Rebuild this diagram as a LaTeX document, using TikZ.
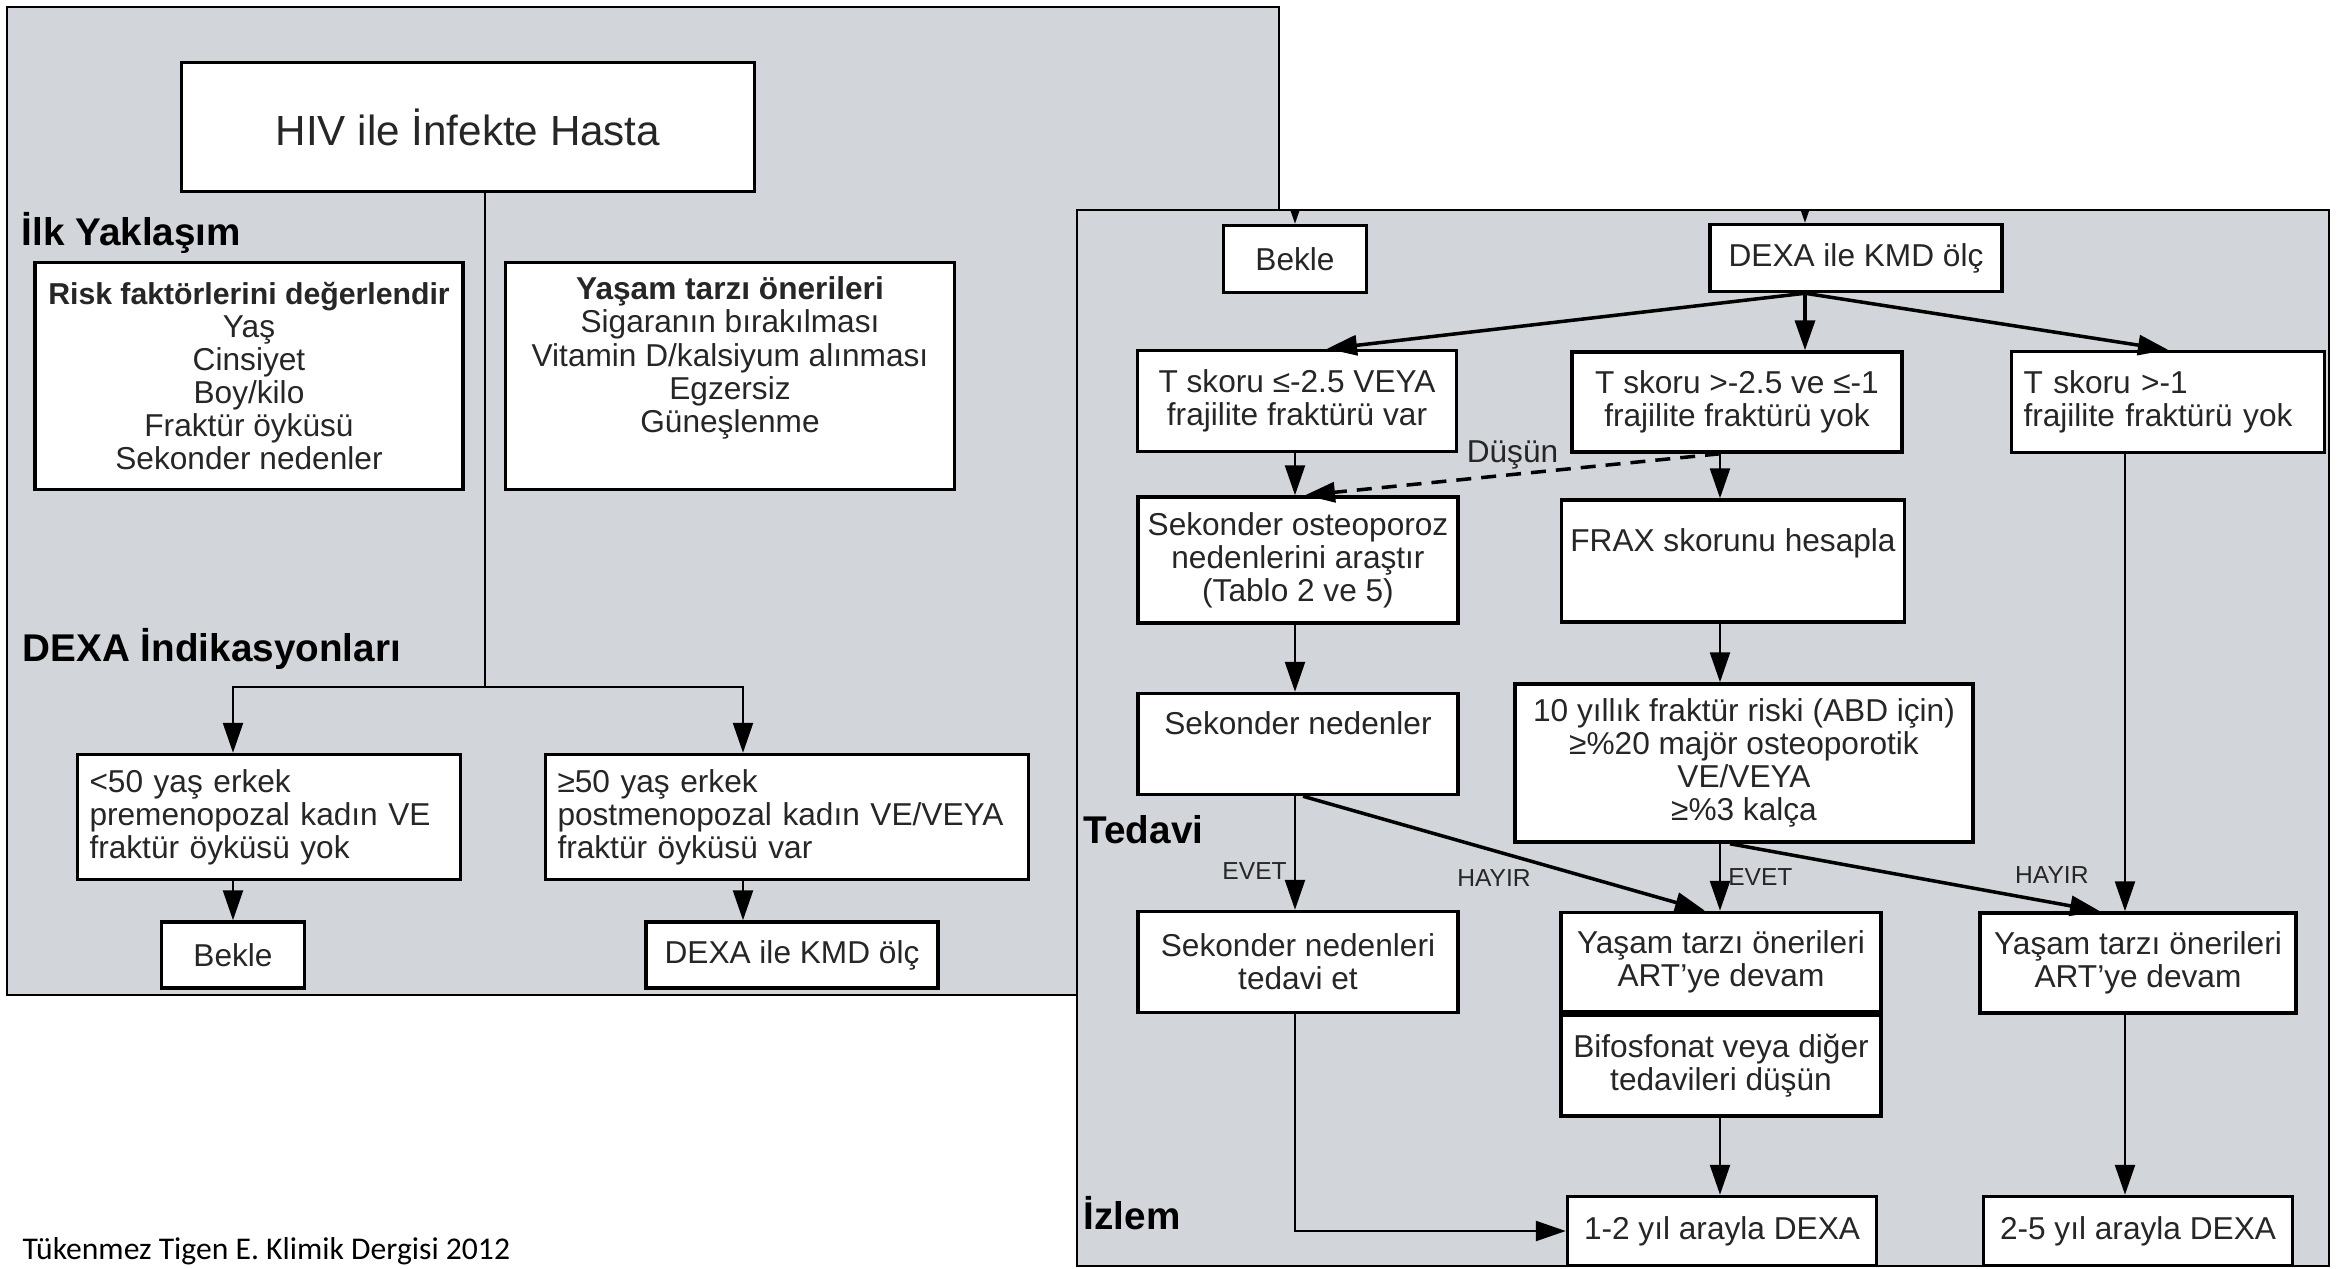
\documentclass[tikz,border=0pt]{standalone}
\usepackage{fontspec}
\setmainfont{Liberation Sans}
\newfontfamily\capfont{Carlito}
\usepackage{tikz}
\usetikzlibrary{arrows.meta, positioning}
\definecolor{panelgray}{RGB}{210,213,217}
\definecolor{ink}{RGB}{38,38,38}
\newcommand{\boxfont}{\fontsize{9}{9.4}\selectfont}

\begin{document}
\begin{tikzpicture}[x=0.1mm, y=-0.1mm, every node/.style={font=\boxfont, text=ink},
      panel/.style={draw=black, fill=panelgray, line width=0.6pt},
      box/.style={draw=black, fill=white, line width=1pt, align=center, inner sep=0pt},
      lbox/.style={box, align=left, inner xsep=1.2mm},
      head/.style={anchor=base west, inner sep=0pt, text=black, font=\fontsize{11}{13}\selectfont\bfseries},
      tag/.style={font=\fontsize{7}{8}\selectfont, inner sep=2pt},
      ar/.style={-{Triangle[length=3mm, width=2mm]}, line width=0.7pt},
      dar/.style={ar, line width=1pt}]
    \useasboundingbox (0,0) rectangle (2346,1268);

    \draw[panel] (7,7) rectangle (1279,995);
    \node[box, minimum width=57.3mm, minimum height=12.9mm, font=\fontsize{12}{14}\selectfont] (hiv) at (468,127) {HIV ile İnfekte Hasta};
    \node[head] (ilk) at (21,245) {İlk Yaklaşım};
    \node[box, minimum width=42.8mm, minimum height=22.7mm] (risk) at (249,376) {{\fontsize{8.6}{9.4}\selectfont\textbf{Risk faktörlerini değerlendir}}\\Yaş\\Cinsiyet\\Boy/kilo\\Fraktür öyküsü\\Sekonder nedenler};
    \node[box, minimum width=44.9mm, minimum height=22.7mm] (yasam) at (730,376) {\textbf{Yaşam tarzı önerileri}\\Sigaranın bırakılması\\Vitamin D/kalsiyum alınması\\Egzersiz\\Güneşlenme\\\strut};
    \node[head] (dexaind) at (22,661) {DEXA İndikasyonları};
    \node[lbox, text width=35.9mm, minimum height=12.5mm] (young) at (269,817) {<50 yaş erkek\\premenopozal kadın VE\\fraktür öyküsü yok};
    \node[lbox, text width=45.9mm, minimum height=12.5mm] (old) at (787,817) {≥50 yaş erkek\\postmenopozal kadın VE/VEYA\\fraktür öyküsü var};
    \node[box, minimum width=14.3mm, minimum height=6.6mm] (bekleL) at (233,955) {Bekle};
    \node[box, minimum width=29.2mm, minimum height=6.6mm] (dexaL) at (792,955) {DEXA ile KMD ölç};
    \coordinate (split) at (485,687);
    \coordinate (colL) at (233,687);
    \coordinate (colR) at (743,687);
    \draw[line width=0.7pt] (hiv.south -| split) -- (split);
    \draw[ar] (split) -| (young.north -| colL); \draw[ar] (split) -| (old.north -| colR);
    \draw[ar] (young.south -| colL) -- (bekleL.north -| colL); \draw[ar] (old.south -| colR) -- (dexaL.north -| colR);

    \draw[panel] (1077,210) rectangle (2329,1266);
    \node[box, minimum width=14.3mm, minimum height=6.7mm] (bekleR) at (1295,259) {Bekle};
    \node[box, minimum width=29.2mm, minimum height=6.7mm] (dexaR) at (1856,258) {DEXA ile KMD ölç};
    \node[box, minimum width=31.9mm, minimum height=10.1mm] (tlow) at (1297,401) {T skoru ≤-2.5 VEYA\\frajilite fraktürü var};
    \node[box, minimum width=33mm, minimum height=10mm] (tmid) at (1737,402) {T skoru >-2.5 ve ≤-1\\frajilite fraktürü yok};
    \node[lbox, text width=28.9mm, minimum height=10.1mm] (thigh) at (2168,402) {T skoru >-1\\frajilite fraktürü yok};
    \node[box, minimum width=32mm, minimum height=12.6mm] (osteo) at (1298,560) {Sekonder osteoporoz\\nedenlerini araştır\\(Tablo 2 ve 5)};
    \node[box, minimum width=34.3mm, minimum height=12.2mm] (frax) at (1733,561) {FRAX skorunu hesapla\\\strut};
    \node[box, minimum width=32mm, minimum height=10.1mm] (seknd) at (1298,744) {Sekonder nedenler\\\strut};
    \node[box, minimum width=45.8mm, minimum height=15.8mm] (risk10) at (1744,763) {10 yıllık fraktür riski (ABD için)\\≥\%20 majör osteoporotik\\VE/VEYA\\≥\%3 kalça};
    \node[head] (tedh) at (1083,843) {Tedavi};
    \node[box, minimum width=32mm, minimum height=10.1mm] (seknt) at (1298,962) {Sekonder nedenleri\\tedavi et};
    \node[box, minimum width=32mm, minimum height=9.9mm] (yasamM) at (1721,962) {Yaşam tarzı önerileri\\ART'ye devam};
    \node[box, minimum width=32mm, minimum height=10.1mm, below=0pt of yasamM] (bifos) {Bifosfonat veya diğer\\tedavileri düşün};
    \node[box, minimum width=31.6mm, minimum height=10mm] (yasamR) at (2138,963) {Yaşam tarzı önerileri\\ART'ye devam};
    \node[head] (izh) at (1083,1229) {İzlem};
    \node[box, minimum width=30.9mm, minimum height=6.9mm] (iz12) at (1722,1231) {1-2 yıl arayla DEXA};
    \node[box, minimum width=30.9mm, minimum height=6.9mm] (iz25) at (2138,1231) {2-5 yıl arayla DEXA};

    \coordinate (cA) at (1295,0); \coordinate (cB) at (1805,0);
    \coordinate (cC) at (1720,0); \coordinate (cD) at (2125,0);
    \coordinate (inA) at (1295,170); \coordinate (inB) at (1805,170);
    \coordinate (tlowIn) at (1327,0); \coordinate (dsh) at (1305,0);
    \coordinate (dgA) at (1303,0); \coordinate (dgB) at (1705,0);
    \coordinate (dgC) at (1730,0); \coordinate (dgD) at (2100,0);
    \begin{scope}
      \clip (1077,210) rectangle (2329,1266);
      \draw[ar] (inA) -- (bekleR.north -| inA); \draw[ar] (inB) -- (dexaR.north -| inB);
    \end{scope}
    \draw[dar] (dexaR.south -| cB) -- (tlow.north -| tlowIn);
    \draw[dar] (dexaR.south -| cB) -- (tmid.north -| cB);
    \draw[dar] (dexaR.south -| cB) -- (thigh.north);
    \draw[ar] (tlow.south -| cA) -- (osteo.north -| cA);
    \draw[ar] (tmid.south -| cC) -- (frax.north -| cC);
    \draw[ar, line width=1pt, dash pattern=on 1.5mm off 1mm] (tmid.south -| cC) -- node[above, inner sep=1pt] {Düşün} (osteo.north -| dsh);
    \draw[ar] (osteo.south -| cA) -- (seknd.north -| cA);
    \draw[ar] (frax.south -| cC) -- (risk10.north -| cC);
    \draw[ar] (seknd.south -| cA) -- node[tag, pos=0.66, left] {EVET} (seknt.north -| cA);
    \draw[dar] (seknd.south -| dgA) -- node[tag, pos=0.475, below=3pt] {HAYIR} (yasamM.north -| dgB);
    \draw[ar] (risk10.south -| cC) -- node[tag, midway, right] {EVET} (yasamM.north -| cC);
    \draw[dar] (risk10.south -| dgC) -- node[tag, pos=0.87, above=3pt] {HAYIR} (yasamR.north -| dgD);
    \draw[ar] (thigh.south -| cD) -- (yasamR.north -| cD);
    \draw[ar] (bifos.south -| cC) -- (iz12.north -| cC);
    \draw[ar] (yasamR.south -| cD) -- (iz25.north -| cD);
    \draw[ar] (seknt.south -| cA) |- (iz12.west);

    \node[anchor=base west, inner sep=0pt, text=black, font=\capfont\fontsize{9}{11}\selectfont] (src) at (22,1259) {Tükenmez Tigen E. Klimik Dergisi 2012};
  \end{tikzpicture}
\end{document}
